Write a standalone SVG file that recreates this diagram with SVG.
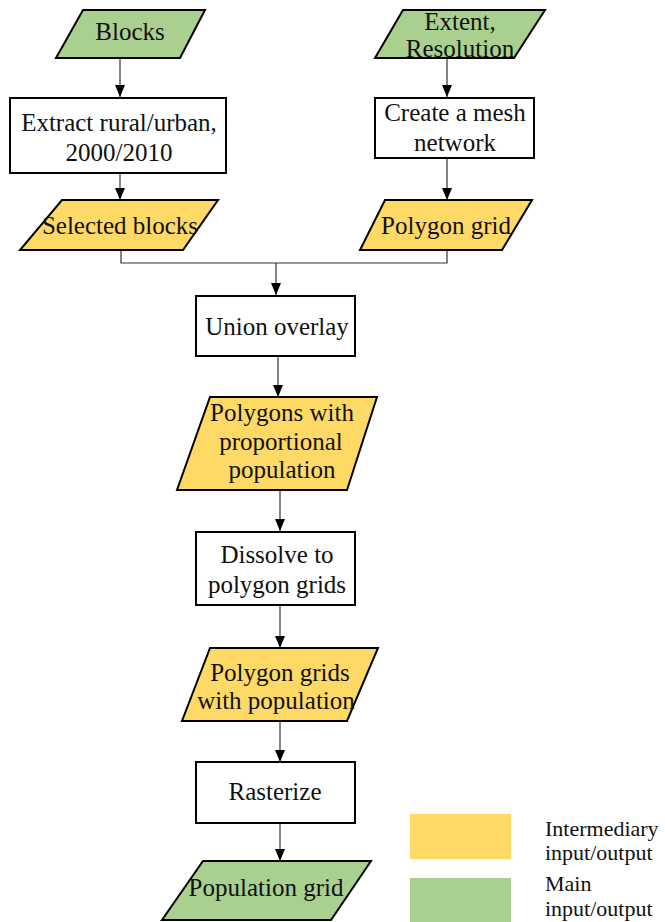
<svg xmlns="http://www.w3.org/2000/svg" width="665" height="922" viewBox="0 0 665 922">
<style>
  text{font-family:'Liberation Serif','Times New Roman',Times,'DejaVu Serif',serif}
  .t{font-size:25px;fill:#111;text-anchor:middle}
  .lt{font-size:22px;fill:#111}
  .box{fill:#fff;stroke:#000;stroke-width:2}
  .main{fill:#A9D08E;stroke:#000;stroke-width:2}
  .mid{fill:#FFD966;stroke:#000;stroke-width:2}
  .c{fill:none;stroke:#333;stroke-width:1.2}
  .ca{fill:none;stroke:#333;stroke-width:1.2;marker-end:url(#ah)}
</style>
<defs>
  <marker id="ah" viewBox="0 0 12 10" refX="12" refY="5" markerWidth="12" markerHeight="10" markerUnits="userSpaceOnUse" orient="auto">
    <path d="M0,0 L12,5 L0,10 Z" fill="#000"/>
  </marker>
</defs>
<rect width="665" height="922" fill="#fff"/>
<g id="connectors">
  <line class="ca" x1="120" y1="58" x2="120" y2="97"/>
  <line class="ca" x1="120" y1="173" x2="120" y2="200"/>
  <line class="ca" x1="447" y1="58" x2="447" y2="97"/>
  <line class="ca" x1="447" y1="158" x2="447" y2="200"/>
  <polyline class="c" points="121,250 121,263 447,263 447,250"/>
  <line class="ca" x1="276" y1="263" x2="276" y2="295"/>
  <line class="ca" x1="278" y1="356" x2="278" y2="397"/>
  <line class="ca" x1="280" y1="490" x2="280" y2="531"/>
  <line class="ca" x1="280" y1="605" x2="280" y2="648"/>
  <line class="ca" x1="280" y1="721" x2="280" y2="762"/>
  <line class="ca" x1="280" y1="823" x2="280" y2="861"/>
</g>
<g id="blocks">
  <polygon class="main" points="83,10 205,10 180,58 56,58"/>
  <text class="t" x="130" y="40">Blocks</text>
</g>
<g id="extract">
  <rect class="box" x="10" y="98" width="216" height="75"/>
  <text class="t" x="119" y="131">Extract rural/urban,</text>
  <text class="t" x="119" y="161">2000/2010</text>
</g>
<g id="selected-blocks">
  <polygon class="mid" points="62,200 218,200 183,250 20,250"/>
  <text class="t" x="120" y="234">Selected blocks</text>
</g>
<g id="extent">
  <polygon class="main" points="403,10 545,10 514,58 375,58"/>
  <text class="t" x="460" y="30">Extent,</text>
  <text class="t" x="460" y="57">Resolution</text>
</g>
<g id="mesh">
  <rect class="box" x="375" y="98" width="159" height="60"/>
  <text class="t" x="455" y="121">Create a mesh</text>
  <text class="t" x="455" y="151">network</text>
</g>
<g id="polygon-grid">
  <polygon class="mid" points="385,200 532,200 502,250 360,250"/>
  <text class="t" x="446" y="234">Polygon grid</text>
</g>
<g id="union">
  <rect class="box" x="196" y="296" width="159" height="60"/>
  <text class="t" x="277" y="335">Union overlay</text>
</g>
<g id="polygons-prop">
  <polygon class="mid" points="210,397 377,397 347,490 177,490"/>
  <text class="t" x="282" y="421">Polygons with</text>
  <text class="t" x="281" y="450">proportional</text>
  <text class="t" x="282" y="478">population</text>
</g>
<g id="dissolve">
  <rect class="box" x="196" y="532" width="159" height="73"/>
  <text class="t" x="277" y="563">Dissolve to</text>
  <text class="t" x="277" y="593">polygon grids</text>
</g>
<g id="grids-pop">
  <polygon class="mid" points="210,648 378,648 347,721 182,721"/>
  <text class="t" x="280" y="681">Polygon grids</text>
  <text class="t" x="276" y="709">with population</text>
</g>
<g id="rasterize">
  <rect class="box" x="196" y="762" width="159" height="61"/>
  <text class="t" x="275" y="800">Rasterize</text>
</g>
<g id="population-grid">
  <polygon class="main" points="203,861 371,861 331,920 162,920"/>
  <text class="t" x="266" y="896">Population grid</text>
</g>
<g id="legend">
  <rect x="410" y="814" width="101" height="45" fill="#FFD966"/>
  <rect x="410" y="878" width="101" height="44" fill="#A9D08E"/>
  <text class="lt" x="545" y="836">Intermediary</text>
  <text class="lt" x="545" y="860">input/output</text>
  <text class="lt" x="545" y="891">Main</text>
  <text class="lt" x="545" y="916">input/output</text>
</g>
</svg>
